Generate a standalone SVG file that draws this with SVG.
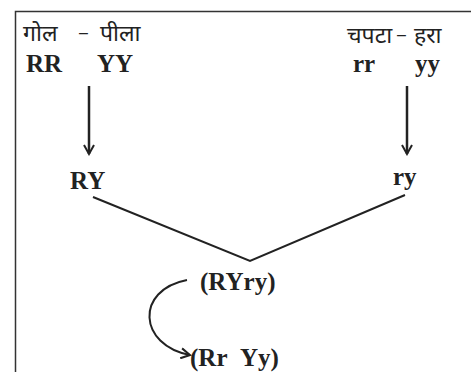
<svg xmlns="http://www.w3.org/2000/svg" width="471" height="372" viewBox="0 0 471 372">
<style>
.hi{font-family:"Noto Sans","Noto Serif Devanagari","Noto Sans Devanagari",sans-serif;font-size:23px;fill:#222}
.d{font-family:"Liberation Sans",sans-serif;font-size:16px;fill:#222}
.b{font-family:"Liberation Serif","Times New Roman",serif;font-weight:bold;font-size:25px;fill:#222}
.ln{stroke:#222;stroke-width:2;fill:none}
.ar{stroke:#222;stroke-width:2.5;fill:none}
</style>
<defs>
<marker id="ah" viewBox="0 0 12 12" refX="10" refY="6" markerWidth="12" markerHeight="12" markerUnits="userSpaceOnUse" orient="auto">
<path d="M1,1 L10,6 L1,11" fill="none" stroke="#222" stroke-width="2"/>
</marker>
</defs>
<rect width="471" height="372" fill="#fff"/>
<g id="frame">
<path d="M15.5,372 V11.5 H471" fill="none" stroke="#333" stroke-width="1.5"/>
</g>
<g id="n-left">
<text class="hi" x="23" y="41">गोल</text>
<text class="d" x="79" y="38">–</text>
<text class="hi" x="100" y="41">पीला</text>
<text class="b" x="26" y="72">RR</text>
<text class="b" x="97" y="72">YY</text>
</g>
<g id="n-right">
<text class="hi" x="347" y="43">चपटा</text>
<text class="d" x="397" y="40">–</text>
<text class="hi" x="414" y="43">हरा</text>
<text class="b" x="353" y="72">rr</text>
<text class="b" x="415" y="72">yy</text>
</g>
<g id="n-RY"><text class="b" x="70" y="189">RY</text></g>
<g id="n-ry"><text class="b" x="393" y="185">ry</text></g>
<g id="n-RYry"><text class="b" x="200" y="290">(RYry)</text></g>
<g id="n-RrYy"><text class="b" x="190" y="366">(Rr</text><text class="b" x="240" y="366">Yy)</text></g>
<g id="connectors">
<path class="ar" d="M89,86 V154" marker-end="url(#ah)"/>
<path class="ar" d="M407,86 V154" marker-end="url(#ah)"/>
<path class="ln" d="M93,197 L250,261 L405,195"/>
<path class="ln" d="M187,280 C135,290 138,345 190,355" marker-end="url(#ah)"/>
</g>
</svg>
